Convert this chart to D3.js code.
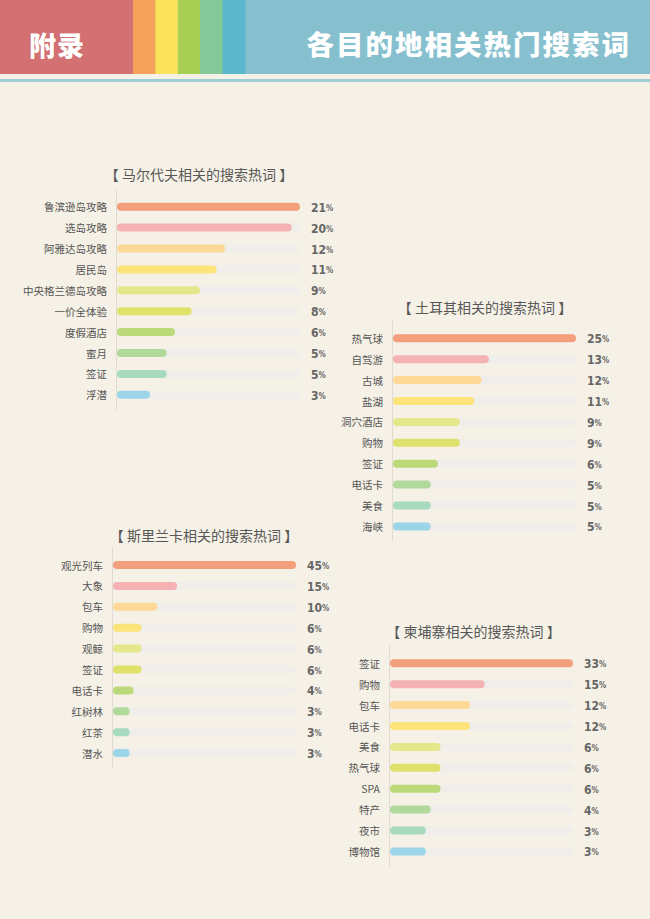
<!DOCTYPE html>
<html>
<head>
<meta charset="utf-8">
<script src="https://cdn.jsdelivr.net/npm/d3@7"></script>
<style>
  html, body { margin: 0; padding: 0; background: #f6f1e6; }
  svg { display: block; }
</style>
</head>
<body>
<div id="chart"></div>
<script>
// search terms and shares (%) per destination
const maldivesTerms = ['鲁滨逊岛攻略', '选岛攻略', '阿雅达岛攻略', '居民岛', '中央格兰德岛攻略', '一价全体验', '度假酒店', '蜜月', '签证', '浮潜'];
const maldivesShares = [21, 20, 12, 11, 9, 8, 6, 5, 5, 3];

const turkeyTerms = ['热气球', '自驾游', '古城', '盐湖', '洞穴酒店', '购物', '签证', '电话卡', '美食', '海峡'];
const turkeyShares = [25, 13, 12, 11, 9, 9, 6, 5, 5, 5];

const sriLankaTerms = ['观光列车', '大象', '包车', '购物', '观鲸', '签证', '电话卡', '红树林', '红茶', '潜水'];
const sriLankaShares = [45, 15, 10, 6, 6, 6, 4, 3, 3, 3];

const cambodiaTerms = ['签证', '购物', '包车', '电话卡', '美食', '热气球', 'SPA', '特产', '夜市', '博物馆'];
const cambodiaShares = [33, 15, 12, 12, 6, 6, 6, 4, 3, 3];

const stripeColors = ['#f4a25b', '#fbe25b', '#a8ce53', '#84c799', '#5bb7cb'];
const barColors = ['#f49f7b', '#f5b2b4', '#fdd896', '#fde47a', '#e5e88a', '#dfe26a', '#bcd979', '#b1d99b', '#a7dabf', '#9dd5e8'];

const W = 650, H = 919;
const TRACK_W = 183;
const ROW_STEP = 20.9;
const BAR_H = 8;

const panels = [
    { title: '【 马尔代夫相关的搜索热词 】', terms: maldivesTerms, shares: maldivesShares, x: 117, y: 206.7, titleX: 199, titleY: 174, minDomain: -0.96 },
    { title: '【 土耳其相关的搜索热词 】', terms: turkeyTerms, shares: turkeyShares, x: 393, y: 338.3, titleX: 485, titleY: 307, minDomain: -0.2 },
    { title: '【 斯里兰卡相关的搜索热词 】', terms: sriLankaTerms, shares: sriLankaShares, x: 113, y: 565, titleX: 204, titleY: 534.5, minDomain: -1.2 },
    { title: '【 柬埔寨相关的搜索热词 】', terms: cambodiaTerms, shares: cambodiaShares, x: 390, y: 663.3, titleX: 473.5, titleY: 630.5, minDomain: -4.3 }
];

const CJK = '"Noto Sans CJK SC", "Noto Sans", sans-serif';
const NUM = '"Liberation Sans Narrow", "DejaVu Sans Condensed", "Roboto", sans-serif';

const svg = d3.select('#chart').append('svg')
    .attr('width', W)
    .attr('height', H)
    .attr('viewBox', `0 0 ${W} ${H}`);

svg.append('rect').attr('width', W).attr('height', H).attr('fill', '#f6f1e6');

// header band
const header = svg.append('g').attr('class', 'header');
header.append('rect').attr('x', 0).attr('y', 0).attr('width', W).attr('height', 74).attr('fill', '#86c0cf');
header.append('rect').attr('x', 0).attr('y', 0).attr('width', 133).attr('height', 74).attr('fill', '#d37071');
const stripeX = d3.scaleBand().domain(d3.range(stripeColors.length)).range([133, 245]);
header.selectAll('rect.stripe')
    .data(stripeColors)
    .join('rect')
    .attr('class', 'stripe')
    .attr('x', (d, i) => stripeX(i))
    .attr('y', 0)
    .attr('width', stripeX.bandwidth() + 0.5)
    .attr('height', 74)
    .attr('fill', (d) => d);
header.append('rect').attr('x', 0).attr('y', 79).attr('width', W).attr('height', 3).attr('fill', '#9ecdd3');

header.append('text')
    .attr('x', 29)
    .attr('y', 44)
    .attr('dominant-baseline', 'central')
    .attr('font-family', CJK)
    .attr('font-weight', 900)
    .attr('font-size', 27)
    .attr('letter-spacing', 1)
    .attr('fill', '#ffffff')
    .text('附录');

header.append('text')
    .attr('x', 631)
    .attr('y', 43)
    .attr('text-anchor', 'end')
    .attr('dominant-baseline', 'central')
    .attr('font-family', CJK)
    .attr('font-weight', 900)
    .attr('font-size', 27.5)
    .attr('letter-spacing', 2)
    .attr('fill', '#ffffff')
    .text('各目的地相关热门搜索词');

// one small bar list per destination
panels.forEach((p) => {
    const g = svg.append('g').attr('transform', `translate(${p.x},${p.y})`);
    const n = p.terms.length;

    const xScale = d3.scaleLinear()
        .domain([p.minDomain, d3.max(p.shares)])
        .range([0, TRACK_W]);
    const yScale = d3.scalePoint()
        .domain(p.terms)
        .range([0, ROW_STEP * (n - 1)]);

    svg.append('text')
        .attr('x', p.titleX)
        .attr('y', p.titleY)
        .attr('text-anchor', 'middle')
        .attr('dominant-baseline', 'central')
        .attr('font-family', CJK)
        .attr('font-weight', 400)
        .attr('font-size', 14)
        .attr('fill', '#585858')
        .text(p.title);

    g.append('line')
        .attr('x1', -0.5)
        .attr('x2', -0.5)
        .attr('y1', -18)
        .attr('y2', yScale(p.terms[n - 1]) + 15)
        .attr('stroke', '#e0dbcf')
        .attr('stroke-width', 1);

    const rows = g.selectAll('g.row')
        .data(p.terms.map((t, i) => ({ term: t, share: p.shares[i], i })))
        .join('g')
        .attr('class', 'row')
        .attr('transform', (d) => `translate(0,${yScale(d.term)})`);

    rows.append('rect')
        .attr('x', 0)
        .attr('y', -BAR_H / 2)
        .attr('width', TRACK_W)
        .attr('height', BAR_H)
        .attr('rx', BAR_H / 2)
        .attr('fill', '#efeeea');

    rows.append('rect')
        .attr('x', 0)
        .attr('y', -BAR_H / 2)
        .attr('width', (d) => xScale(d.share))
        .attr('height', BAR_H)
        .attr('rx', BAR_H / 2)
        .attr('fill', (d) => barColors[d.i]);

    rows.append('text')
        .attr('x', -10)
        .attr('y', 0)
        .attr('text-anchor', 'end')
        .attr('dominant-baseline', 'central')
        .attr('font-family', CJK)
        .attr('font-size', 10.5)
        .attr('fill', '#555555')
        .text((d) => d.term);

    const pct = rows.append('text')
        .attr('x', TRACK_W + 11)
        .attr('y', 1)
        .attr('dominant-baseline', 'central')
        .attr('font-family', NUM)
        .attr('font-weight', 700)
        .attr('font-size', 12)
        .attr('fill', '#666666');
    pct.append('tspan').text((d) => d.share);
    pct.append('tspan').attr('font-size', 8).text('%');
});
</script>
</body>
</html>
